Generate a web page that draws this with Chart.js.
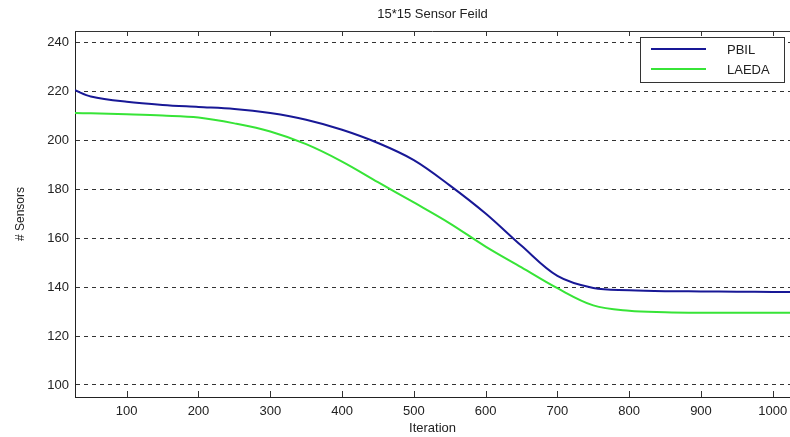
<!DOCTYPE html>
<html>
<head>
<meta charset="utf-8">
<script src="https://cdn.jsdelivr.net/npm/chart.js@4"></script>
<style>
  html, body { margin: 0; padding: 0; background: #fff; }
  #wrap { width: 790px; height: 437px; }
</style>
</head>
<body>
<div id="wrap"><canvas id="chart-sensores" width="790" height="437"></canvas></div>
<script>
// datos
var iteraciones = [28, 50, 100, 150, 200, 250, 300, 350, 400, 450, 500, 550, 600, 650, 700, 750, 800, 850, 900, 950, 1000, 1024];
var pbil  = [220.3, 217.8, 215.6, 214.3, 213.5, 212.7, 211.0, 208.3, 204.2, 198.8, 191.8, 181.5, 170.0, 156.8, 144.5, 139.6, 138.7, 138.3, 138.2, 138.1, 138.0, 138.0];
var laeda = [211.0, 210.9, 210.5, 210.0, 209.2, 206.8, 203.5, 198.3, 191.2, 182.8, 174.5, 166.0, 156.5, 148.0, 139.5, 132.5, 130.3, 129.7, 129.5, 129.5, 129.5, 129.5];
var ticksX = [100, 200, 300, 400, 500, 600, 700, 800, 900, 1000];
var ticksY = [100, 120, 140, 160, 180, 200, 220, 240];

var fuente = "'Liberation Sans', Arial, sans-serif";

function serie(valores) {
    return iteraciones.map(function (it, i) { return { x: it, y: valores[i] }; });
}

// marco, marcas de los ejes y leyenda a mano
var marcoPlugin = {
    id: 'marco',
    afterDraw: function (chart) {
        var ctx = chart.ctx;
        var area = chart.chartArea;
        var sx = chart.scales.x;
        ctx.save();
        ctx.strokeStyle = '#333';
        ctx.lineWidth = 1;
        ctx.beginPath();
        ctx.moveTo(area.left, area.top + 0.5);
        ctx.lineTo(area.right, area.top + 0.5);
        ticksX.forEach(function (v) {
            var px = Math.round(sx.getPixelForValue(v)) + 0.5;
            ctx.moveTo(px, area.top);
            ctx.lineTo(px, area.top + 5);
            ctx.moveTo(px, area.bottom);
            ctx.lineTo(px, area.bottom - 6);
        });
        ctx.stroke();

        // leyenda
        var lx = 640, ly = 37, lw = 144, lh = 45;
        ctx.fillStyle = '#fff';
        ctx.fillRect(lx, ly, lw, lh);
        ctx.strokeStyle = '#333';
        ctx.strokeRect(lx + 0.5, ly + 0.5, lw, lh);
        ctx.font = '13px ' + fuente;
        ctx.textBaseline = 'middle';
        chart.data.datasets.forEach(function (ds, i) {
            var y = ly + 12 + i * 20;
            ctx.strokeStyle = ds.borderColor;
            ctx.lineWidth = 2;
            ctx.beginPath();
            ctx.moveTo(lx + 11, y);
            ctx.lineTo(lx + 66, y);
            ctx.stroke();
            ctx.fillStyle = '#222';
            ctx.fillText(ds.label, lx + 87, y + 1);
        });
        ctx.restore();
    }
};

var ctx = document.getElementById('chart-sensores').getContext('2d');
var chart = new Chart(ctx, {
    type: 'line',
    data: {
        datasets: [{
            label: 'PBIL',
            data: serie(pbil),
            borderColor: 'rgb(24, 24, 150)',
            borderWidth: 2,
            pointRadius: 0,
            tension: 0.35,
            fill: false
        }, {
            label: 'LAEDA',
            data: serie(laeda),
            borderColor: 'rgb(55, 228, 55)',
            borderWidth: 2,
            pointRadius: 0,
            tension: 0.35,
            fill: false
        }]
    },
    options: {
        responsive: false,
        animation: false,
        layout: { padding: { left: 0, right: 0, top: 0, bottom: 0 } },
        plugins: {
            legend: { display: false },
            tooltip: { enabled: false },
            title: {
                display: true,
                text: '15*15 Sensor Feild',
                fullSize: false,
                color: '#222',
                font: { family: fuente, size: 13, weight: 'normal' },
                padding: { top: 7, bottom: 8.4 }
            }
        },
        scales: {
            x: {
                type: 'linear',
                min: 28,
                max: 1024,
                afterBuildTicks: function (axis) {
                    axis.ticks = ticksX.map(function (v) { return { value: v }; });
                },
                afterFit: function (axis) {
                    axis.height = 40;
                    axis.paddingLeft = 0;
                    axis.paddingRight = 0;
                },
                grid: { display: false, drawTicks: false },
                border: { display: true, color: '#222', width: 1 },
                ticks: {
                    color: '#222',
                    padding: 7,
                    maxRotation: 0,
                    font: { family: fuente, size: 13 },
                    callback: function (value) { return String(value); }
                },
                title: {
                    display: true,
                    text: 'Iteration',
                    color: '#222',
                    font: { family: fuente, size: 13 },
                    padding: { top: 0, bottom: 1 }
                }
            },
            y: {
                type: 'linear',
                min: 95.1,
                max: 244.5,
                afterBuildTicks: function (axis) {
                    axis.ticks = ticksY.map(function (v) { return { value: v }; });
                },
                afterFit: function (axis) { axis.width = 75; },
                grid: {
                    drawTicks: false,
                    color: '#333',
                    lineWidth: 1
                },
                border: { display: true, color: '#222', width: 1, dash: [4, 4] },
                ticks: {
                    color: '#222',
                    padding: 6,
                    font: { family: fuente, size: 13 }
                },
                title: {
                    display: true,
                    text: '# Sensors',
                    color: '#222',
                    font: { family: fuente, size: 12 },
                    padding: { top: 13, bottom: 0 }
                }
            }
        }
    },
    plugins: [marcoPlugin]
});
</script>
</body>
</html>
